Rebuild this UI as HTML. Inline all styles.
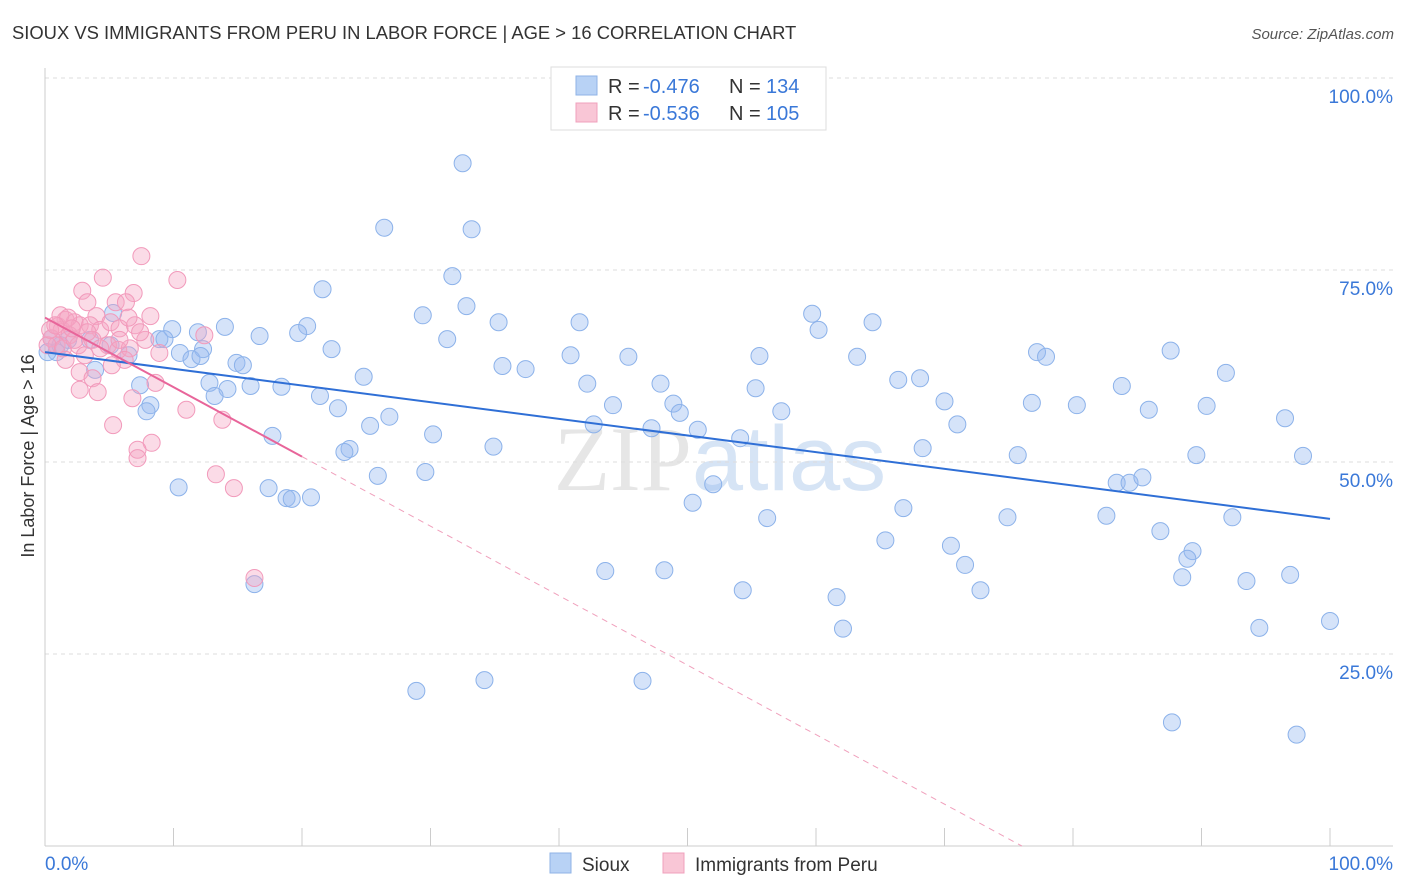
<!DOCTYPE html>
<html><head><meta charset="utf-8"><style>
body{margin:0;background:#fff;font-family:"Liberation Sans",sans-serif;}
svg{display:block}
</style></head><body>
<svg id="chart" width="1406" height="892" xmlns="http://www.w3.org/2000/svg">
<text x="12" y="39" font-size="18.4" fill="#333">SIOUX VS IMMIGRANTS FROM PERU IN LABOR FORCE | AGE &gt; 16 CORRELATION CHART</text>
<text x="1394" y="39" font-size="15" fill="#555" font-style="italic" text-anchor="end">Source: ZipAtlas.com</text>
<text x="720" y="490" font-size="92" fill="#e6e6e6" text-anchor="middle" font-family="Liberation Serif,serif">ZIP<tspan fill="#d6e4f5" font-family="Liberation Sans,sans-serif">atlas</tspan></text>
<g id="grid"></g>
<g id="axes"></g>
<g id="pts"></g>
<g id="trends"></g>
<text transform="translate(34,456) rotate(-90)" font-size="18" fill="#333" text-anchor="middle">In Labor Force | Age &gt; 16</text>
<g font-size="20">
<rect x="551" y="67" width="275" height="63" fill="#fff" stroke="#ddd"/>
<rect x="576" y="76" width="21" height="19" fill="#b8d2f5" stroke="#8fb3e6"/>
<rect x="576" y="103" width="21" height="19" fill="#f9c6d6" stroke="#f0a0bc"/>
<text x="608" y="93" fill="#333">R =</text><text x="643" y="93" fill="#3a78d8">-0.476</text>
<text x="729" y="93" fill="#333">N =</text><text x="766" y="93" fill="#3a78d8">134</text>
<text x="608" y="120" fill="#333">R =</text><text x="643" y="120" fill="#3a78d8">-0.536</text>
<text x="729" y="120" fill="#333">N =</text><text x="766" y="120" fill="#3a78d8">105</text>
</g>
<g>
<rect x="550" y="853" width="21" height="20" fill="#b8d2f5" stroke="#8fb3e6"/>
<text x="582" y="871" font-size="19" fill="#333">Sioux</text>
<rect x="663" y="853" width="21" height="20" fill="#f9c6d6" stroke="#f0a0bc"/>
<text x="695" y="871" font-size="19" fill="#333">Immigrants from Peru</text>
</g>
</svg>
<script>
const yTicks=[25,50,75,100];
const yTickLabels=["25.0%","50.0%","75.0%","100.0%"];
const xTicks=[0,10,20,30,40,50,60,70,80,90,100];
const siouxX=[32.5,26.4,33.2,31.7,21.6,32.8,29.4,35.3,41.6,59.7,64.4,60.2,31.3,20.4,19.7,14.0,11.9,9.9,8.9,9.3,16.7,22.3,12.3,10.5,11.4,14.9,15.4,24.8,35.6,37.4,40.9,45.4,55.6,63.2,77.2,77.9,87.6,91.9,66.4,68.1,55.3,47.9,42.2,18.4,16.0,14.2,12.8,7.4,8.2,7.9,13.2,21.4,22.8,26.8,25.3,30.2,23.7,23.3,17.7,34.9,44.2,48.9,49.4,42.7,47.2,50.8,54.1,57.3,70.0,71.0,68.3,76.8,80.3,83.8,85.9,90.4,96.5,75.7,89.6,97.9,83.4,84.4,85.4,25.9,29.6,10.4,17.4,18.8,19.2,20.7,52.0,50.4,56.2,66.8,74.9,82.6,92.4,65.4,70.5,86.8,89.3,88.9,71.6,43.6,48.2,88.5,93.5,96.9,72.8,54.3,61.6,16.3,62.1,94.5,100,28.9,34.2,46.5,87.7,97.4,0.9,1.2,0.2,1.8,0.5,3.9,5.1,6.5,5.3,3.5,12.1];
const siouxY=[88.9,80.5,80.3,74.2,72.5,70.3,69.1,68.2,68.2,69.3,68.2,67.2,66.0,67.7,66.8,67.6,66.9,67.3,66.0,66.0,66.4,64.7,64.7,64.2,63.4,62.9,62.6,61.1,62.5,62.1,63.9,63.7,63.8,63.7,64.3,63.7,64.5,61.6,60.7,60.9,59.6,60.2,60.2,59.8,59.9,59.5,60.3,60.0,57.4,56.6,58.6,58.6,57.0,55.9,54.7,53.6,51.7,51.3,53.4,52.0,57.4,57.6,56.4,54.9,54.4,54.2,53.1,56.6,57.9,54.9,51.8,57.7,57.4,59.9,56.8,57.3,55.7,50.9,50.9,50.8,47.3,47.3,48.0,48.2,48.7,46.7,46.6,45.3,45.2,45.4,47.1,44.7,42.7,44.0,42.8,43.0,42.8,39.8,39.1,41.0,38.4,37.4,36.6,35.8,35.9,35.0,34.5,35.3,33.3,33.3,32.4,34.1,28.3,28.4,29.3,20.2,21.6,21.5,16.1,14.5,64.3,65.2,64.3,65.9,66.1,62.0,65.2,63.9,69.4,65.9,63.8];
const peruX=[7.5,10.3,4.5,2.9,6.9,3.3,5.5,6.3,8.2,4.0,1.6,2.3,1.0,1.3,1.9,0.5,2.7,3.5,4.3,5.1,5.8,7.0,7.8,0.9,0.2,1.4,2.6,3.7,4.9,5.7,6.6,8.9,6.2,2.7,3.7,2.7,4.1,8.6,6.8,11.0,13.8,5.3,8.3,7.2,7.2,13.3,14.7,16.3,12.4,1.2,1.8,2.3,3.1,4.3,5.2,1.6,5.8,6.5,7.4,0.4,0.8,2.1,3.3];
const peruY=[76.8,73.7,74.0,72.3,72.0,70.8,70.8,70.8,69.0,69.0,68.5,68.2,67.7,67.2,66.5,66.1,67.8,67.8,67.2,68.2,67.4,67.8,65.9,65.2,65.2,64.8,65.2,65.9,65.2,64.6,64.8,64.2,63.3,61.7,60.9,59.4,59.1,60.3,58.3,56.8,55.5,54.8,52.5,51.6,50.5,48.4,46.6,34.9,66.5,69.1,68.8,65.9,63.9,64.8,62.6,63.3,65.9,68.8,66.9,67.2,67.8,67.4,66.9];
const siouxTrend=[64.3,-21.7];
const peruTrend=[68.8,-90.5];
const NS="http://www.w3.org/2000/svg";
const X0=45,X1=1330,Y0=846,Y100=78;
const sx=v=>X0+(X1-X0)*v/100;
const sy=v=>Y0-(Y0-Y100)*v/100;
function mk(tag,attrs,parent){const e=document.createElementNS(NS,tag);for(const k in attrs)e.setAttribute(k,attrs[k]);parent.appendChild(e);return e;}
const grid=document.getElementById('grid'),axes=document.getElementById('axes'),pts=document.getElementById('pts'),tr=document.getElementById('trends');
yTicks.forEach((t,i)=>{
 const l=mk('line',{x1:X0,x2:1393,y1:sy(t),y2:sy(t),stroke:'#ddd','stroke-dasharray':'4,4'},grid);
 
 
 const tx=mk('text',{x:1393,y:sy(t)+25,'font-size':19,fill:'#3a78d8','text-anchor':'end'},grid);
 tx.textContent=yTickLabels[i];
 
 
});
const xa=mk('line',{x1:X0,x2:1393,y1:Y0,y2:Y0,stroke:'#ccc'},axes);


const ya=mk('line',{x1:X0,x2:X0,y1:68,y2:Y0,stroke:'#ccc'},axes);


xTicks.forEach(t=>{
 const l=mk('line',{x1:sx(t),x2:sx(t),y1:Y0,y2:Y0-18,stroke:'#ccc'},axes);
 
 
});
const xl0=mk('text',{x:45,y:870,'font-size':19,fill:'#3a78d8'},axes);xl0.textContent='0.0%';


const xl1=mk('text',{x:1393,y:870,'font-size':19,fill:'#3a78d8','text-anchor':'end'},axes);xl1.textContent='100.0%';


siouxX.forEach((v,i)=>{
 const c=mk('circle',{cx:sx(v),cy:sy(siouxY[i]),r:8.5,fill:'rgba(150,185,240,0.4)',stroke:'#8cb2ea','stroke-width':1},pts);
 
 
});
peruX.forEach((v,i)=>{
 const c=mk('circle',{cx:sx(v),cy:sy(peruY[i]),r:8.5,fill:'rgba(245,165,195,0.4)',stroke:'#f29abb','stroke-width':1},pts);
 
 
});
const bt=mk('line',{x1:sx(0),y1:sy(siouxTrend[0]),x2:sx(100),y2:sy(siouxTrend[0]+siouxTrend[1]),stroke:'#2f6fd6','stroke-width':2},tr);


const pEnd=20,pZero=-peruTrend[0]/peruTrend[1]*100;
const pt=mk('line',{x1:sx(0),y1:sy(peruTrend[0]),x2:sx(pEnd),y2:sy(peruTrend[0]+peruTrend[1]*pEnd/100),stroke:'#e8659a','stroke-width':2},tr);


const pd=mk('line',{x1:sx(pEnd),y1:sy(peruTrend[0]+peruTrend[1]*pEnd/100),x2:sx(pZero),y2:sy(0),stroke:'#f0a0bc','stroke-width':1,'stroke-dasharray':'6,5'},tr);


</script>
</body></html>
